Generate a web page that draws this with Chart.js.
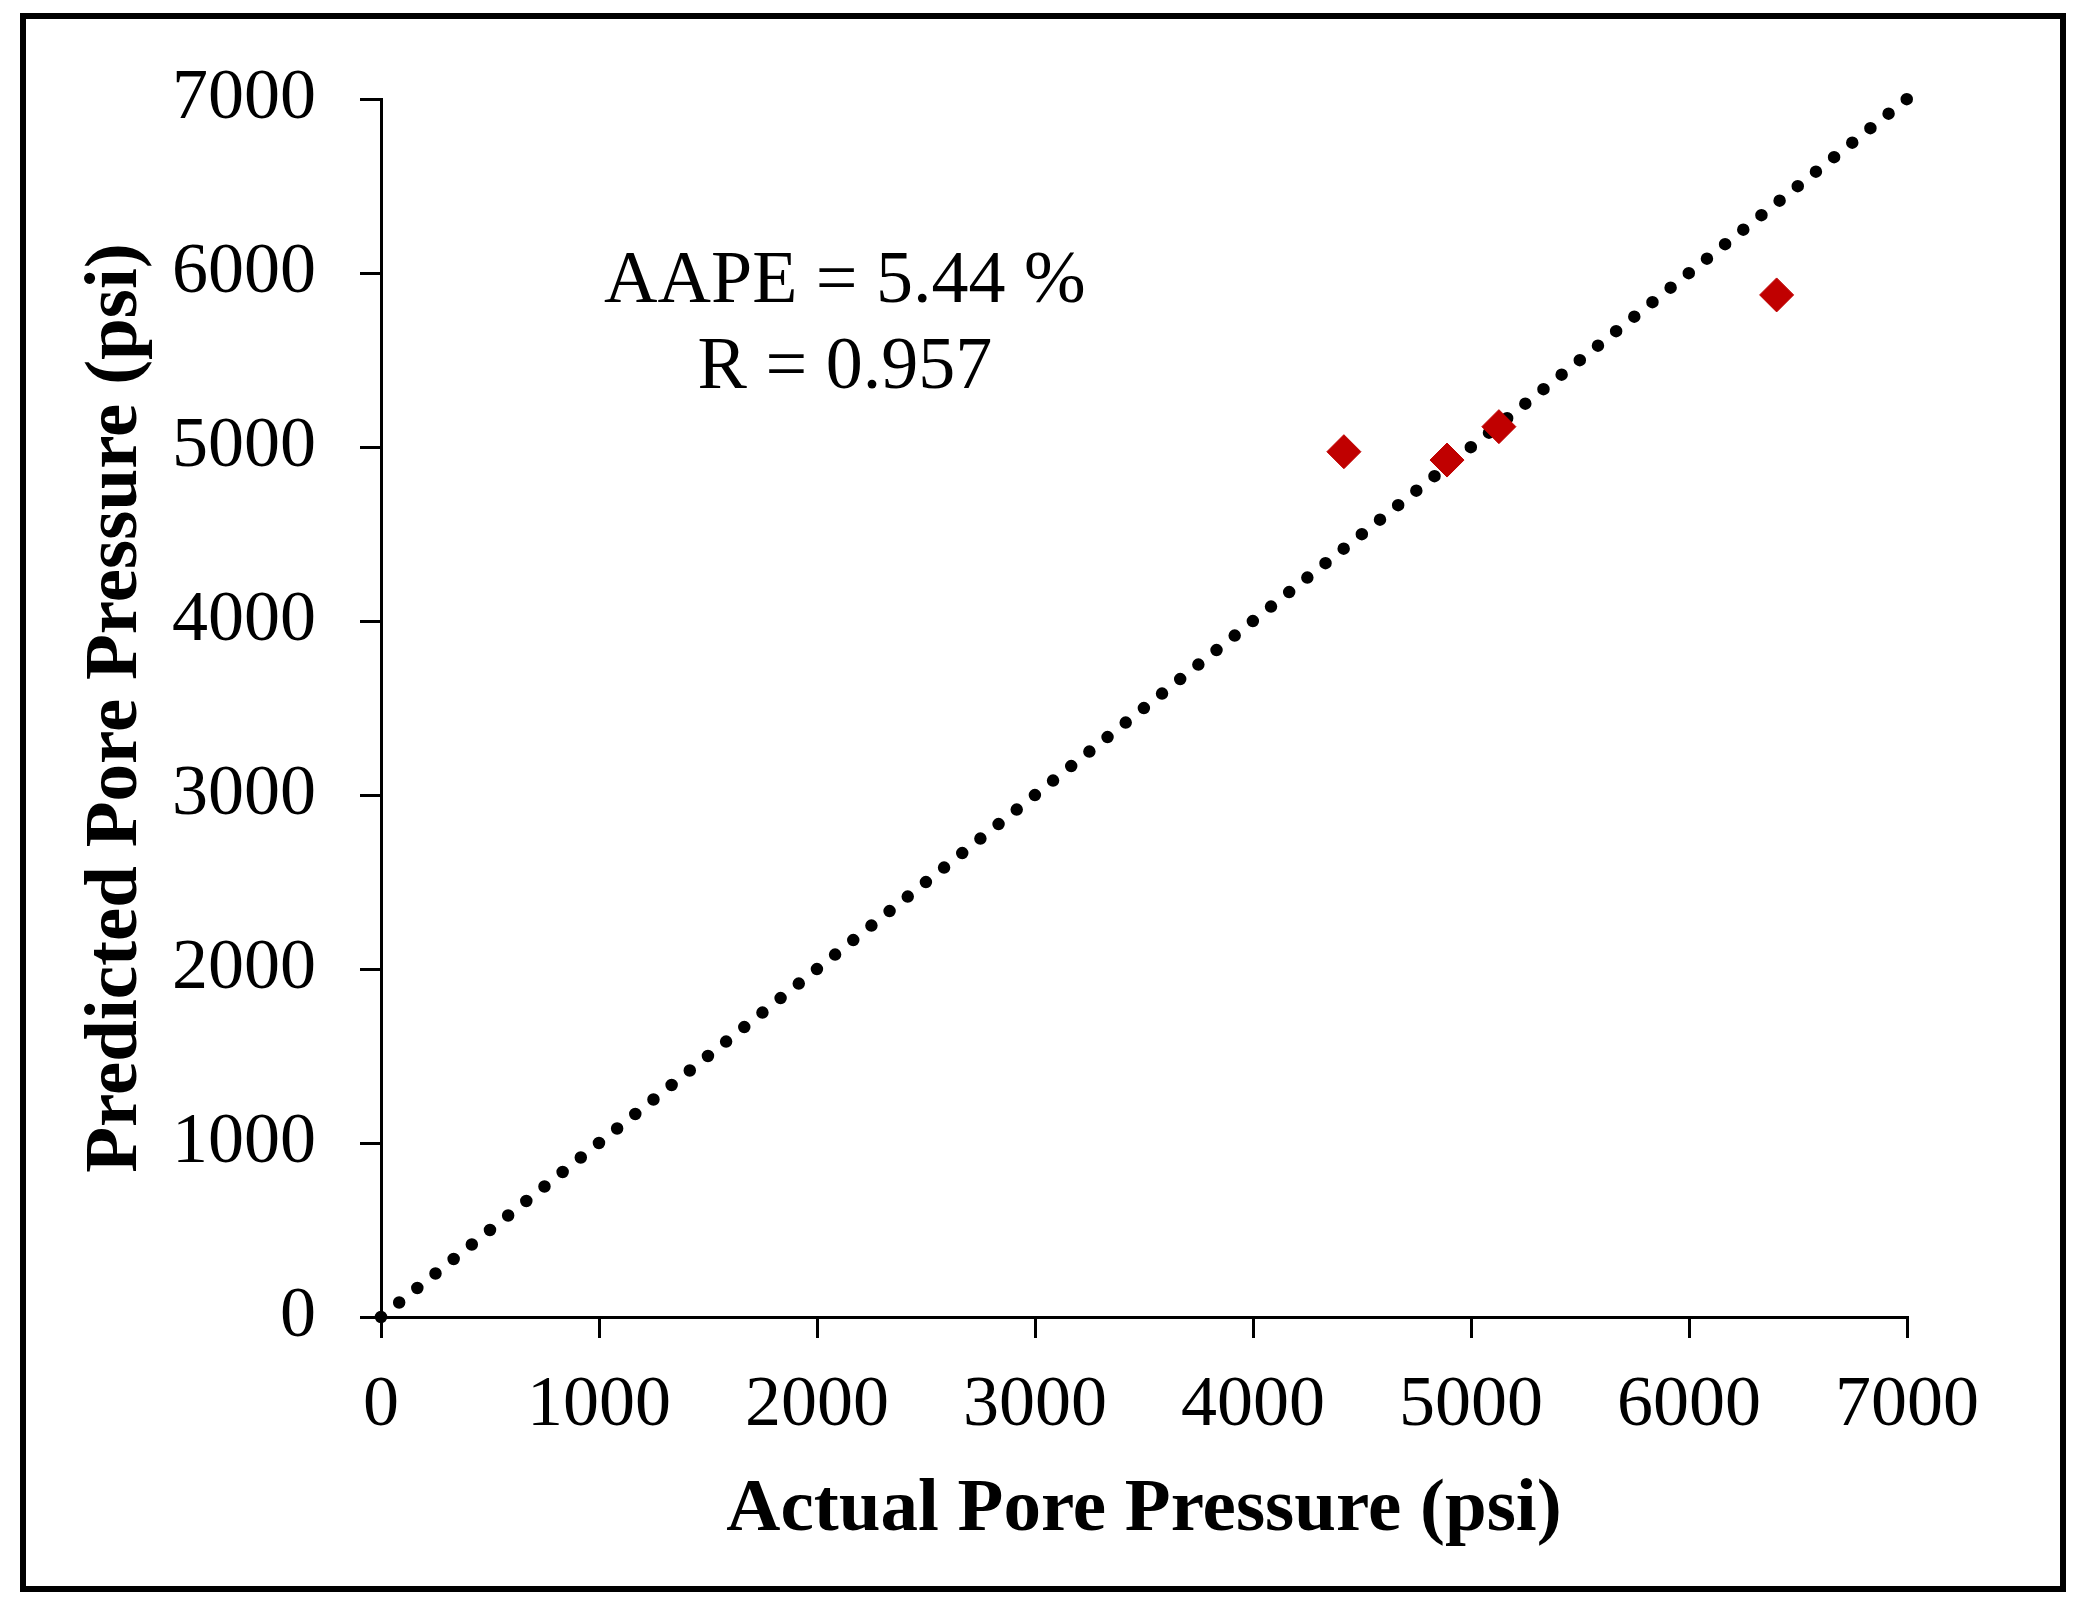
<!DOCTYPE html>
<html>
<head>
<meta charset="utf-8">
<script src="https://cdn.jsdelivr.net/npm/chart.js@4.4.1/dist/chart.umd.min.js"></script>
<style>
  html, body { margin: 0; padding: 0; background: #ffffff; }
  canvas { display: block; }
</style>
</head>
<body>
<canvas id="poreChart" width="2086" height="1613"></canvas>
<script>
// measured vs predicted pore pressure (psi)
const actualPressure = [4417, 4890, 5128, 6402];
const predictedPressure = [4973, 4925, 5117, 5874];
// 1:1 reference line
const refLineX = [0, 7000];
const refLineY = [0, 7000];
const tickValues = [0, 1000, 2000, 3000, 4000, 5000, 6000, 7000];
const statsText = ['AAPE = 5.44 %', 'R = 0.957'];

const serif = '"Liberation Serif", "Times New Roman", serif';

// outer frame + the stats text
const framePlugin = {
    id: 'frame',
    beforeDraw(chart) {
        const c = chart.ctx;
        c.save();
        c.fillStyle = '#ffffff';
        c.fillRect(0, 0, chart.width, chart.height);
        c.strokeStyle = '#000000';
        c.lineWidth = 6;
        c.strokeRect(23, 16, 2040, 1573);
        c.restore();
    },
    afterDraw(chart) {
        const c = chart.ctx;
        const xs = chart.scales.x, ys = chart.scales.y;
        c.save();
        c.fillStyle = '#000000';
        c.font = '74px ' + serif;
        c.textAlign = 'center';
        c.textBaseline = 'alphabetic';
        const cx = xs.getPixelForValue(2128);
        c.fillText(statsText[0], cx, ys.getPixelForValue(5833));
        c.fillText(statsText[1], cx, ys.getPixelForValue(5339));
        c.restore();
    }
};

const ctx = document.getElementById('poreChart').getContext('2d');

new Chart(ctx, {
    type: 'scatter',
    data: {
        datasets: [{
            label: 'Predicted',
            data: actualPressure.map((v, i) => ({ x: v, y: predictedPressure[i] })),
            pointStyle: 'rectRot',
            pointRadius: 17,
            pointBackgroundColor: '#C00000',
            pointBorderColor: '#C00000',
            pointBorderWidth: 1,
            clip: false
        }, {
            label: '1:1',
            data: refLineX.map((v, i) => ({ x: v, y: refLineY[i] })),
            showLine: true,
            borderColor: '#000000',
            borderWidth: 12.5,
            borderCapStyle: 'round',
            borderDash: [0, 23.24],
            pointRadius: 0,
            clip: false
        }]
    },
    options: {
        responsive: false,
        devicePixelRatio: 1,
        animation: false,
        layout: { padding: { left: 0, top: 99, right: 179, bottom: 0 } },
        plugins: {
            legend: { display: false },
            tooltip: { enabled: false }
        },
        scales: {
            x: {
                type: 'linear',
                min: 0,
                max: 7000,
                afterBuildTicks: scale => { scale.ticks = tickValues.map(v => ({ value: v })); },
                afterFit: scale => { scale.height = 296; },
                border: { display: true, color: '#000000', width: 3 },
                grid: { drawOnChartArea: false, drawTicks: true, tickLength: 21, color: '#000000', lineWidth: 3 },
                ticks: {
                    color: '#000000',
                    font: { family: serif, size: 72 },
                    padding: 25,
                    maxRotation: 0,
                    autoSkip: false,
                    callback: value => String(value)
                },
                title: {
                    display: true,
                    text: 'Actual Pore Pressure (psi)',
                    color: '#000000',
                    font: { family: serif, size: 75, weight: 'bold' },
                    padding: { top: 0, bottom: 57 }
                }
            },
            y: {
                type: 'linear',
                min: 0,
                max: 7000,
                afterBuildTicks: scale => { scale.ticks = tickValues.map(v => ({ value: v })); },
                afterFit: scale => { scale.width = 381; },
                border: { display: true, color: '#000000', width: 3 },
                grid: { drawOnChartArea: false, drawTicks: true, tickLength: 21, color: '#000000', lineWidth: 3 },
                ticks: {
                    color: '#000000',
                    font: { family: serif, size: 72 },
                    padding: 44,
                    autoSkip: false,
                    callback: value => String(value)
                },
                title: {
                    display: true,
                    text: 'Predicted Pore Pressure (psi)',
                    color: '#000000',
                    font: { family: serif, size: 75, weight: 'bold' },
                    padding: { top: 72, bottom: 0 }
                }
            }
        }
    },
    plugins: [framePlugin]
});
</script>
</body>
</html>
